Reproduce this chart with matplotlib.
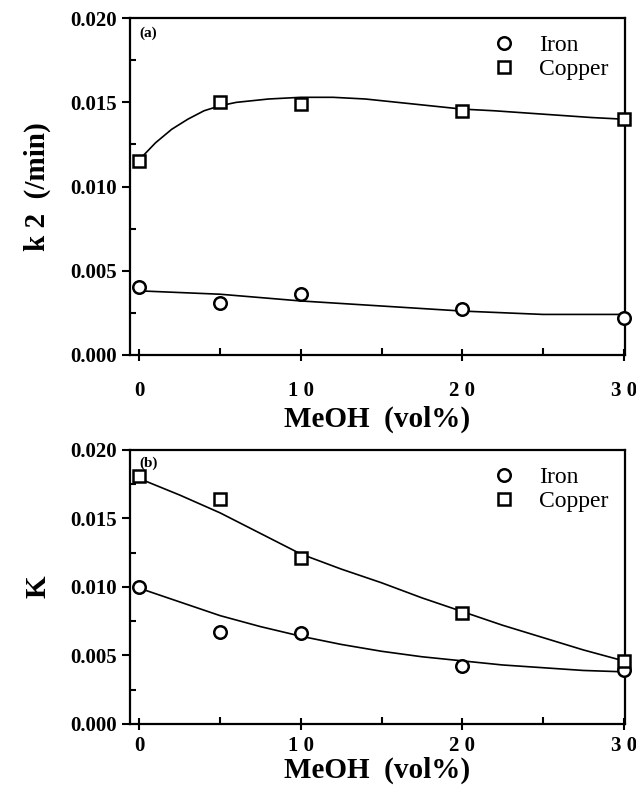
import numpy as np
import matplotlib
matplotlib.use('Agg')
import matplotlib.pyplot as plt
from matplotlib.ticker import MultipleLocator
from matplotlib.lines import Line2D

plt.rcParams['font.family'] = ['Liberation Serif', 'DejaVu Serif']

# measured points
meoh = [0, 5, 10, 20, 30]
k2_iron = [0.0040, 0.0031, 0.0036, 0.0027, 0.0022]
k2_copper = [0.0115, 0.0150, 0.0149, 0.0145, 0.0140]
K_iron = [0.0100, 0.0067, 0.0066, 0.0042, 0.0039]
K_copper = [0.0181, 0.0164, 0.0121, 0.0081, 0.0046]

# fitted curves
fit_x_a = [0, 1, 2, 3, 4, 5, 6, 8, 10, 12, 14, 16, 18, 20, 22, 25, 28, 30]
k2_copper_fit = [0.0116, 0.0126, 0.0134, 0.0140, 0.0145, 0.0148, 0.0150, 0.0152, 0.0153,
                 0.0153, 0.0152, 0.0150, 0.0148, 0.0146, 0.0145, 0.0143, 0.0141, 0.0140]
fit_x_iron_a = [0, 5, 10, 15, 20, 25, 30]
k2_iron_fit = [0.0038, 0.0036, 0.0032, 0.0029, 0.0026, 0.0024, 0.0024]

fit_x_b = [0, 2.5, 5, 7.5, 10, 12.5, 15, 17.5, 20, 22.5, 25, 27.5, 30]
K_copper_fit = [0.0179, 0.0167, 0.0154, 0.0139, 0.0124, 0.0113, 0.0103, 0.0092, 0.0082,
                0.0072, 0.0063, 0.0054, 0.0046]
K_iron_fit = [0.0099, 0.0089, 0.0079, 0.0071, 0.0064, 0.0058, 0.0053, 0.0049, 0.0046,
              0.0043, 0.0041, 0.0039, 0.0038]

xticklabels = ['0', '1 0', '2 0', '3 0']
yticklabels = ['0.000', '0.005', '0.010', '0.015', '0.020']

fig = plt.figure(figsize=(6.36, 7.92), dpi=100)
ax1 = fig.add_axes([0.204, 0.552, 0.779, 0.425])
ax2 = fig.add_axes([0.204, 0.086, 0.779, 0.346])

mk = dict(linestyle='none', markerfacecolor='white', markeredgecolor='black',
          markeredgewidth=1.8, markersize=9)


def style(ax, ylabel, tag, iron, copper, fx_i, fi, fx_c, fc, xpad, lpad):
    ax.plot(fx_c, fc, color='black', lw=1.2, zorder=2)
    ax.plot(fx_i, fi, color='black', lw=1.2, zorder=2)
    ax.plot(meoh, iron, marker='o', clip_on=False, zorder=3, **mk)
    ax.plot(meoh, copper, marker='s', clip_on=False, zorder=3, **mk)
    ax.set_xlim(-0.6, 30.1)
    ax.set_ylim(0, 0.020)
    ax.xaxis.set_minor_locator(MultipleLocator(5))
    ax.yaxis.set_minor_locator(MultipleLocator(0.0025))
    ax.set_xticks([0, 10, 20, 30])
    ax.set_xticklabels(xticklabels, fontweight='bold', fontsize=15)
    ax.set_yticks([0, 0.005, 0.010, 0.015, 0.020])
    ax.set_yticklabels(yticklabels, fontweight='bold', fontsize=15)
    ax.tick_params(axis='y', which='major', direction='out', length=6, width=1.5, pad=3)
    ax.tick_params(axis='y', which='minor', direction='in', length=4, width=1.5)
    ax.tick_params(axis='x', which='major', direction='inout', length=9, width=1.5, pad=xpad)
    ax.tick_params(axis='x', which='minor', direction='in', length=5, width=1.5)
    for s in ax.spines.values():
        s.set_linewidth(1.6)
    ax.set_xlabel('MeOH  (vol%)', fontweight='bold', fontsize=21, labelpad=lpad)
    ax.set_ylabel(ylabel, fontweight='bold', fontsize=21, labelpad=14)
    ax.text(0.02, 0.975, tag, transform=ax.transAxes, fontweight='bold',
            fontsize=11, va='top', ha='left')
    handles = [Line2D([], [], marker='o', **mk), Line2D([], [], marker='s', **mk)]
    ax.legend(handles, ['Iron', 'Copper'], loc='upper right', frameon=False,
              fontsize=17, handletextpad=0.5, borderaxespad=0.3, labelspacing=0.1)


style(ax1, 'k 2  (/min)', '(a)', k2_iron, k2_copper, fit_x_iron_a, k2_iron_fit,
      fit_x_a, k2_copper_fit, 14, 4)
style(ax2, 'K', '(b)', K_iron, K_copper, fit_x_b, K_iron_fit, fit_x_b, K_copper_fit, 4, 1)

fig.savefig('out.png', dpi=100)
